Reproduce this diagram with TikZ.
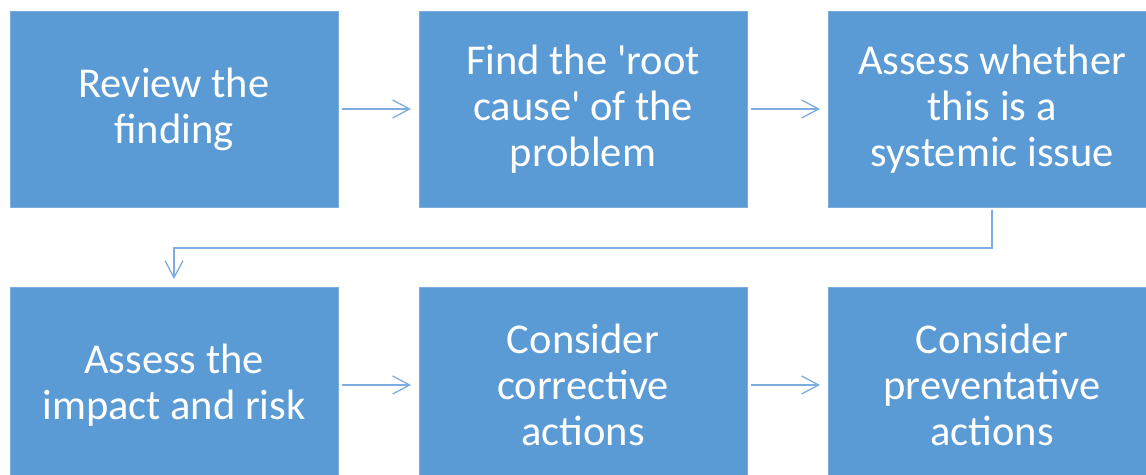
\documentclass[tikz,border=0pt]{standalone}
\usepackage{fontspec}
\setmainfont{Carlito}
\usetikzlibrary{arrows.meta}
\definecolor{boxblue}{RGB}{91,155,213}
\definecolor{lineblue}{RGB}{125,172,222}
\tikzset{
  stepbox/.style={fill=boxblue,draw=lineblue,line width=0.8pt,text=white,
    minimum width=328pt,minimum height=196pt,outer sep=0pt,align=center,
    font=\fontsize{42.5}{46}\selectfont}
}
\begin{document}
\begin{tikzpicture}[x=1pt,y=1pt,->,>={Straight Barb[length=17pt,width=18pt]},
  every edge/.style={draw,lineblue,line width=1.3pt,shorten <=4pt,shorten >=8pt}]
\useasboundingbox (0,0) rectangle (1146,474);
\begin{scope}
\clip (0,0) rectangle (1146,474);
\node[stepbox](1) at (174,365) {Review the\\finding};
\node[stepbox](2) at (583,365) {Find the \textquotesingle root\\cause\textquotesingle{} of the\\problem};
\node[stepbox](3) at (992,365) {Assess whether\\this is a\\systemic issue};
\node[stepbox](4) at (174,89) {Assess the\\impact and risk};
\node[stepbox](5) at (583,89) {Consider\\corrective\\actions};
\node[stepbox](6) at (992,89) {Consider\\preventative\\actions};
\end{scope}
\path (1) edge (2) (2) edge (3);
\path (4) edge (5) (5) edge (6);
\draw[lineblue,line width=1.3pt,shorten <=3pt,shorten >=8pt] (3.south) -- ++(0,-41) -| (4.north);
\end{tikzpicture}
\end{document}
